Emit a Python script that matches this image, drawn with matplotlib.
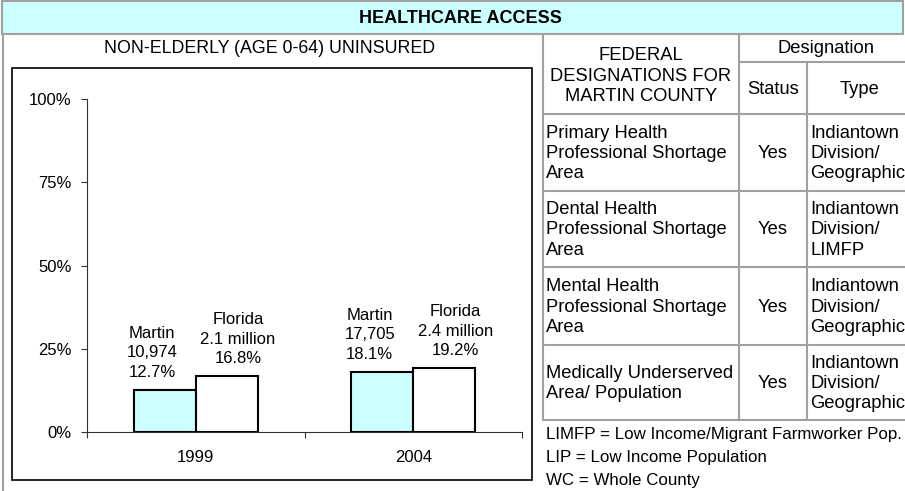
import numpy as np
import matplotlib.pyplot as plt
from matplotlib.patches import Rectangle

plt.rcParams['font.family'] = ['Liberation Sans', 'DejaVu Sans']

# chart data
years = ["1999", "2004"]
martin_pct = [12.7, 18.1]
florida_pct = [16.8, 19.2]
martin_count = ["10,974", "17,705"]
florida_count = ["2.1 million", "2.4 million"]
y_ticks = [0, 25, 50, 75, 100]

# table data
designations = ["Primary Health\nProfessional Shortage\nArea",
                "Dental Health\nProfessional Shortage\nArea",
                "Mental Health\nProfessional Shortage\nArea",
                "Medically Underserved\nArea/ Population"]
statuses = ["Yes", "Yes", "Yes", "Yes"]
types = ["Indiantown\nDivision/\nGeographic",
         "Indiantown\nDivision/\nLIMFP",
         "Indiantown\nDivision/\nGeographic",
         "Indiantown\nDivision/\nGeographic"]
notes = ["LIMFP = Low Income/Migrant Farmworker Pop.",
         "LIP = Low Income Population",
         "WC = Whole County"]

W, H = 905, 491
fig = plt.figure(figsize=(W / 100, H / 100), dpi=100)

# background layer in pixel coordinates
bg = fig.add_axes([0, 0, 1, 1])
bg.set_xlim(0, W)
bg.set_ylim(H, 0)
bg.axis('off')

grey = '#a0a0a0'

# title band
bg.add_patch(Rectangle((2, 1), 901, 33, facecolor='#ccffff', edgecolor=grey, lw=1.5))
bg.text(460, 18, "HEALTHCARE ACCESS", ha='center', va='center',
        fontsize=13, fontweight='bold')

# left panel border and chart frame
bg.plot([3, 3], [34, H], color=grey, lw=1.5)
bg.add_patch(Rectangle((12, 68), 520, 412, facecolor='white', edgecolor='black', lw=1.2))
bg.text(270, 48, "NON-ELDERLY (AGE 0-64) UNINSURED", ha='center', va='center', fontsize=12.8)

# table grid
x0, x1, x2, x3 = 543, 739, 807, 912
rows = [114, 191, 267, 345, 420]
bg.plot([x0, x0], [34, rows[-1]], color=grey, lw=1.5)
bg.plot([x1, x1], [34, rows[-1]], color=grey, lw=1.5)
bg.plot([x2, x2], [62, rows[-1]], color=grey, lw=1.5)
bg.plot([x1, x3], [62, 62], color=grey, lw=1.5)
for yy in rows:
    bg.plot([x0, x3], [yy, yy], color=grey, lw=1.5)

fs = 13.2
ls = 1.25
bg.text((x0 + x1) / 2, 76, "FEDERAL\nDESIGNATIONS FOR\nMARTIN COUNTY", ha='center',
        va='center', fontsize=fs, linespacing=ls, multialignment='center')
bg.text((x1 + x3) / 2, 48, "Designation", ha='center', va='center', fontsize=fs)
bg.text((x1 + x2) / 2, 89, "Status", ha='center', va='center', fontsize=fs)
bg.text((x2 + x3) / 2, 89, "Type", ha='center', va='center', fontsize=fs)

for i in range(len(designations)):
    yc = (rows[i] + rows[i + 1]) / 2 + 1
    bg.text(x0 + 3, yc, designations[i], ha='left', va='center', fontsize=fs, linespacing=ls)
    bg.text((x1 + x2) / 2, yc, statuses[i], ha='center', va='center', fontsize=fs)
    bg.text(x2 + 3, yc, types[i], ha='left', va='center', fontsize=fs, linespacing=ls)

for i, note in enumerate(notes):
    bg.text(x0 + 3, 434 + i * 23.5, note, ha='left', va='center', fontsize=12.2)

# bar chart
ax = fig.add_axes([87 / W, 1 - 432 / H, (522 - 87) / W, (432 - 99) / H])
ax.set_facecolor('none')
x = np.arange(len(years))
bw = 0.285
ax.bar(x - bw / 2, martin_pct, bw, color='#ccffff', edgecolor='black', lw=1.5)
ax.bar(x + bw / 2, florida_pct, bw, color='white', edgecolor='black', lw=1.5)

for i in range(len(years)):
    ax.annotate("Martin\n%s\n%.1f%%" % (martin_count[i], martin_pct[i]),
                (x[i] - bw / 2, martin_pct[i]), xytext=(-9, 7), textcoords='offset points',
                ha='center', va='bottom', fontsize=12, linespacing=1.38)
    ax.annotate("Florida\n%s\n%.1f%%" % (florida_count[i], florida_pct[i]),
                (x[i] + bw / 2, florida_pct[i]), xytext=(8, 7), textcoords='offset points',
                ha='center', va='bottom', fontsize=12, linespacing=1.38)

ax.set_xlim(-0.5, 1.5)
ax.set_ylim(0, 100)
ax.set_yticks(y_ticks)
ax.set_yticklabels(["%d%%" % t for t in y_ticks])
ax.set_xticks(x)
ax.set_xticklabels(years)
ax.set_xticks([-0.5, 0.5, 1.5], minor=True)
ax.tick_params(axis='x', which='major', length=0, pad=13, labelsize=12)
ax.tick_params(axis='x', which='minor', length=4, width=0.8, color='#333333')
ax.tick_params(axis='y', length=4, width=0.8, color='#333333', pad=7, labelsize=12)
for s in ['top', 'right']:
    ax.spines[s].set_visible(False)
for s in ['left', 'bottom']:
    ax.spines[s].set_color('#333333')
    ax.spines[s].set_linewidth(0.8)

fig.savefig('out.png', dpi=100)
